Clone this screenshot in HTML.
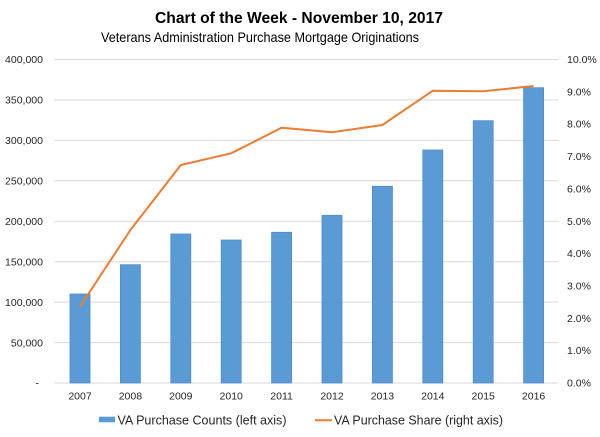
<!DOCTYPE html>
<html><head><meta charset="utf-8"><style>
html,body{margin:0;padding:0;background:#fff;}
svg{display:block;font-family:"Liberation Sans",sans-serif;}
</style></head><body>
<svg width="600" height="437" viewBox="0 0 600 437" xmlns="http://www.w3.org/2000/svg">
<rect width="600" height="437" fill="#fff"/>
<text x="299" y="23" text-anchor="middle" font-size="16" font-weight="bold" fill="#000" textLength="288" lengthAdjust="spacingAndGlyphs">Chart of the Week - November 10, 2017</text>
<text x="260" y="42" text-anchor="middle" font-size="14" fill="#000" textLength="318" lengthAdjust="spacingAndGlyphs">Veterans Administration Purchase Mortgage Originations</text>
<g stroke="#d9d9d9" stroke-width="1">
<line x1="54" x2="558" y1="59.5" y2="59.5"/>
<line x1="54" x2="558" y1="99.9" y2="99.9"/>
<line x1="54" x2="558" y1="140.4" y2="140.4"/>
<line x1="54" x2="558" y1="180.8" y2="180.8"/>
<line x1="54" x2="558" y1="221.3" y2="221.3"/>
<line x1="54" x2="558" y1="261.7" y2="261.7"/>
<line x1="54" x2="558" y1="302.1" y2="302.1"/>
<line x1="54" x2="558" y1="342.6" y2="342.6"/>
<line x1="54" x2="558" y1="383" y2="383"/>
</g>
<g font-size="10.5" fill="#262626" text-anchor="end">
<text x="43" y="63">400,000</text>
<text x="43" y="103.5">350,000</text>
<text x="43" y="144">300,000</text>
<text x="43" y="184.5">250,000</text>
<text x="43" y="225">200,000</text>
<text x="43" y="265.5">150,000</text>
<text x="43" y="306">100,000</text>
<text x="43" y="346.5">50,000</text>
<text x="39" y="386.5">-</text>
</g>
<g font-size="10.5" fill="#262626" text-anchor="start">
<text x="567" y="63">10.0%</text>
<text x="567" y="95.3">9.0%</text>
<text x="567" y="127.7">8.0%</text>
<text x="567" y="160">7.0%</text>
<text x="567" y="192.4">6.0%</text>
<text x="567" y="224.8">5.0%</text>
<text x="567" y="257.1">4.0%</text>
<text x="567" y="289.5">3.0%</text>
<text x="567" y="321.8">2.0%</text>
<text x="567" y="354.2">1.0%</text>
<text x="567" y="386.5">0.0%</text>
</g>
<g fill="#5b9bd5" stroke="#4f8ccc" stroke-width="0.8">
<rect x="70" y="294" width="20" height="89"/>
<rect x="120.4" y="264.7" width="20" height="118.3"/>
<rect x="170.8" y="234" width="20" height="149"/>
<rect x="221.2" y="240" width="20" height="143"/>
<rect x="271.6" y="232.3" width="20" height="150.7"/>
<rect x="322" y="215.3" width="20" height="167.7"/>
<rect x="372.4" y="186.3" width="20" height="196.7"/>
<rect x="422.8" y="150" width="20" height="233"/>
<rect x="473.2" y="120.7" width="20" height="262.3"/>
<rect x="523.6" y="87.7" width="20" height="295.3"/>
</g>
<polyline fill="none" stroke="#ed7d31" stroke-width="2" stroke-linejoin="round" points="80,306.7 130.4,230 180.8,165 231.2,153.3 281.6,127.7 332,132.3 382.4,125 432.8,90.7 483.2,91.3 533.6,86"/>
<g font-size="10.5" fill="#262626" text-anchor="middle">
<text x="80" y="399.5">2007</text>
<text x="130.4" y="399.5">2008</text>
<text x="180.8" y="399.5">2009</text>
<text x="231.2" y="399.5">2010</text>
<text x="281.6" y="399.5">2011</text>
<text x="332" y="399.5">2012</text>
<text x="382.4" y="399.5">2013</text>
<text x="432.8" y="399.5">2014</text>
<text x="483.2" y="399.5">2015</text>
<text x="533.6" y="399.5">2016</text>
</g>
<rect x="99" y="416.7" width="16" height="5.6" fill="#5b9bd5"/>
<text x="117.5" y="424.5" font-size="13" fill="#262626" textLength="169" lengthAdjust="spacingAndGlyphs">VA Purchase Counts (left axis)</text>
<line x1="315" x2="332" y1="420.3" y2="420.3" stroke="#ed7d31" stroke-width="2"/>
<text x="334" y="424.5" font-size="13" fill="#262626" textLength="169" lengthAdjust="spacingAndGlyphs">VA Purchase Share (right axis)</text>
</svg>
</body></html>
